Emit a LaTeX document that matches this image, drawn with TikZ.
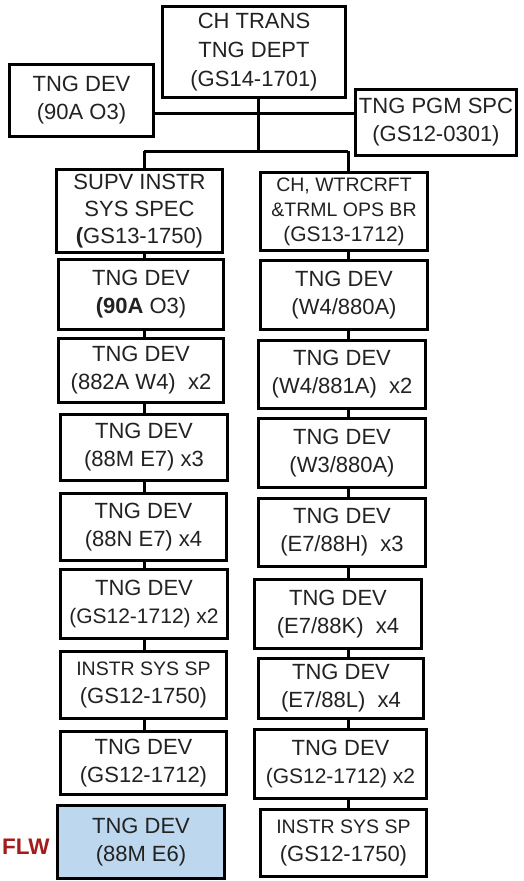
\documentclass[tikz,border=0pt]{standalone}
\usepackage{fontspec}
\setmainfont{Liberation Sans}
\definecolor{txt}{HTML}{222222}
\definecolor{flwblue}{HTML}{BDD7EE}
\definecolor{flwred}{HTML}{A31B1B}
\newcommand{\smtxt}{\fontsize{21}{28}\selectfont}
\begin{document}
\begin{tikzpicture}[x=1pt,y=-1pt,
  box/.style={draw=black,line width=3pt,fill=white,align=center,text=txt,
    inner sep=0pt,font=\fontsize{22}{28}\selectfont},
  smallbox/.style={box,font=\fontsize{19.5}{25}\selectfont},
  conn/.style={draw=black,line width=3pt}]
\useasboundingbox (0,0) rectangle (523,881);
% top level
\node[box,minimum width=183pt,minimum height=91pt,font=\fontsize{22}{29}\selectfont] (top) at (254,52) {CH TRANS\\TNG DEPT\\(GS14-1701)};
\node[box,minimum width=144pt,minimum height=72pt] (tdev) at (81.5,100.5) {TNG DEV\\(90A O3)};
\node[box,minimum width=161pt,minimum height=66pt] (pgm) at (436,122.5) {TNG PGM SPC\\(GS12-0301)};
% column heads
\node[box,minimum width=166pt,minimum height=83pt,font=\fontsize{22}{27}\selectfont] (supv) at (139.5,211) {SUPV INSTR\\SYS SPEC\\\textbf{(}GS13-1750)};
\node[smallbox,minimum width=167pt,minimum height=78pt] (ch) at (344,211.5) {CH, WTRCRFT\\\&TRML OPS BR\\{\fontsize{21}{25}\selectfont(GS13-1712)}};
% left column
\node[box,minimum width=165pt,minimum height=70pt] (l1) at (141,294.5) {TNG DEV\\\textbf{(90A} O3)};
\node[box,minimum width=165pt,minimum height=64pt] (l2) at (141,370.5) {TNG DEV\\(882A W4)~ x2};
\node[box,minimum width=167pt,minimum height=66pt] (l3) at (144,447.5) {TNG DEV\\(88M E7) x3};
\node[box,minimum width=166pt,minimum height=67pt] (l4) at (143.5,527) {TNG DEV\\(88N E7) x4};
\node[box,minimum width=167pt,minimum height=69pt] (l5) at (144,604) {TNG DEV\\{\smtxt(GS12-1712) x2}};
\node[box,minimum width=166pt,minimum height=67pt,font=\fontsize{19.5}{28}\selectfont] (l6) at (143.5,685) {INSTR SYS SP\\{\fontsize{22}{28}\selectfont(GS12-1750)}};
\node[box,minimum width=166pt,minimum height=63pt] (l7) at (143.5,763) {TNG DEV\\(GS12-1712)};
\node[box,fill=flwblue,minimum width=167pt,minimum height=73pt] (l8) at (141,842) {TNG DEV\\(88M E6)};
\node[text=flwred,font=\fontsize{22.5}{24}\selectfont\bfseries,anchor=west,inner sep=0pt] (flw) at (2,847) {FLW};
% right column
\node[box,minimum width=167pt,minimum height=69pt] (r1) at (344,295) {TNG DEV\\(W4/880A)};
\node[box,minimum width=167pt,minimum height=68pt] (r2) at (342,374.5) {TNG DEV\\(W4/881A)~ x2};
\node[box,minimum width=167pt,minimum height=69pt] (r3) at (342,453) {TNG DEV\\(W3/880A)};
\node[box,minimum width=167pt,minimum height=68pt] (r4) at (342,532.5) {TNG DEV\\(E7/88H)~ x3};
\node[box,minimum width=167pt,minimum height=69pt] (r5) at (338,614) {TNG DEV\\(E7/88K)~ x4};
\node[box,minimum width=165pt,minimum height=60pt] (r6) at (341,688.5) {TNG DEV\\(E7/88L)~ x4};
\node[box,minimum width=172pt,minimum height=69pt] (r7) at (340.5,764) {TNG DEV\\{\smtxt(GS12-1712) x2}};
\node[box,minimum width=166pt,minimum height=67pt,font=\fontsize{19.5}{28}\selectfont] (r8) at (343.5,843) {INSTR SYS SP\\{\fontsize{22}{28}\selectfont(GS12-1750)}};
% junction coordinates
\coordinate (hub) at (258,113);
\coordinate (split) at (258,151);
\coordinate (lcol) at (144,151);
\coordinate (rcol) at (348,151);
% connectors
\draw[conn] (top.south -| hub) -- (split);
\draw[conn] (tdev.east |- hub) -- (pgm.west |- hub);
\draw[conn] (lcol) -- (rcol);
\draw[conn] (lcol) -- (supv.north -| lcol);
\draw[conn] (rcol) -- (ch.north -| rcol);
\foreach \a/\b in {supv/l1,l1/l2,l2/l3,l3/l4,l4/l5,l5/l6,l6/l7}
  \draw[conn] (\a.south -| lcol) -- (\b.north -| lcol);
\foreach \a/\b in {ch/r1,r1/r2,r2/r3,r3/r4,r4/r5,r5/r6,r6/r7,r7/r8}
  \draw[conn] (\a.south -| rcol) -- (\b.north -| rcol);
\end{tikzpicture}
\end{document}
